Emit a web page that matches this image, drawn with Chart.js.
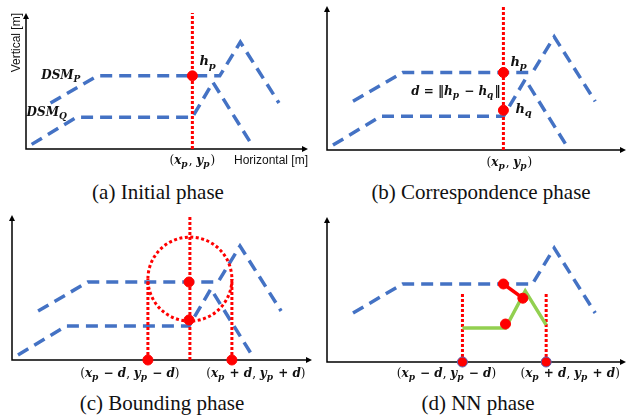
<!DOCTYPE html>
<html>
<head>
<meta charset="utf-8">
<script src="https://cdn.jsdelivr.net/npm/chart.js@4.4.0/dist/chart.umd.min.js"></script>
<style>
  body { margin: 0; width: 637px; height: 420px; background: #fff; position: relative; overflow: hidden; }
  canvas { position: absolute; }
  .cap { position: absolute; font-family: "Liberation Serif", "Times New Roman", serif; font-size: 21px;
         line-height: 1; white-space: nowrap; transform: translateX(-50%); color: #111; }
</style>
</head>
<body>
<canvas id="pa" width="318" height="175" style="left:0;top:0"></canvas>
<canvas id="pb" width="319" height="175" style="left:318px;top:0"></canvas>
<canvas id="pc" width="318" height="180" style="left:0;top:205px"></canvas>
<canvas id="pd" width="319" height="180" style="left:318px;top:205px"></canvas>
<div class="cap" style="left:158px;top:182px">(a) Initial phase</div>
<div class="cap" style="left:481px;top:182px">(b) Correspondence phase</div>
<div class="cap" style="left:162px;top:393px">(c) Bounding phase</div>
<div class="cap" style="left:478px;top:393px">(d) NN phase</div>
<script>
// profile data (horizontal / vertical, arbitrary units)
const dsmPx = [0.87, 2.53, 6.87, 7.6, 8.97];
const dsmPy = [1.69, 2.69, 2.69, 3.93, 1.69];
const dsmQx = [0.2, 1.8, 5.9, 6.63, 8.0];
const dsmQy = [0.17, 1.17, 1.17, 2.45, 0.17];

const xp = 5.9, hp = 2.69, hq = 1.38;
const circleX = 5.93, circleY = 2.79, d = 1.4;
const boundX = [4.53, 7.33];
const boundTopC = 2.79, boundTopD = 2.41;

// NN phase
const nnX = [4.53, 5.97, 6.63, 7.33];
const nnY = [1.17, 1.17, 2.45, 1.28];
const matchX = [5.9, 6.55];
const matchY = [2.69, 2.2];
const nnDotX = [5.9, 6.55, 5.97];
const nnDotY = [2.69, 2.2, 1.31];

const BLUE = '#4472C4', RED = '#FF0000', GREEN = '#92D050';

const pts = (xs, ys) => xs.map((x, i) => ({ x: x, y: ys[i] }));

const dashed = (xs, ys) => ({
    data: pts(xs, ys), showLine: true, pointRadius: 0,
    borderColor: BLUE, borderWidth: 3.5, borderDash: [12, 7], clip: false,
});
const dotted = (xs, ys) => ({
    data: pts(xs, ys), showLine: true, pointRadius: 0,
    borderColor: RED, borderWidth: 3, borderDash: [3, 2], clip: false,
});
const dots = (xs, ys, edge) => ({
    data: pts(xs, ys), showLine: false, pointRadius: 5, pointHoverRadius: 5,
    backgroundColor: RED, borderColor: edge || RED, borderWidth: 1, clip: false,
});

// math-ish text: parts = [text, subscript, style]  style: b = bold italic, u = bold upright, r = regular
function drawMath(ctx, x, y, parts, size, align) {
    const font = (st, s) => (st === 'b' ? 'italic bold ' : st === 'u' ? 'bold ' : '') + s + 'px "DejaVu Serif", serif';
    const sub = Math.round(size * 0.78);
    let w = 0;
    parts.forEach(p => {
        ctx.font = font(p[2], size); w += ctx.measureText(p[0]).width;
        if (p[1]) { ctx.font = font('b', sub); w += ctx.measureText(p[1]).width + 1; }
    });
    let cx = align === 'center' ? x - w / 2 : align === 'right' ? x - w : x;
    ctx.fillStyle = '#111';
    ctx.textBaseline = 'middle';
    ctx.textAlign = 'left';
    parts.forEach(p => {
        ctx.font = font(p[2], size); ctx.fillText(p[0], cx, y);
        cx += ctx.measureText(p[0]).width;
        if (p[1]) {
            ctx.font = font('b', sub); ctx.fillText(p[1], cx, y + size * 0.32);
            cx += ctx.measureText(p[1]).width + 1;
        }
    });
}

const axesPlugin = {
    id: 'axes',
    beforeDatasetsDraw(chart) {
        const { ctx, chartArea: a } = chart;
        ctx.save();
        ctx.strokeStyle = '#000'; ctx.fillStyle = '#000'; ctx.lineWidth = 1.5;
        ctx.beginPath();
        ctx.moveTo(a.left, a.top + 3); ctx.lineTo(a.left, a.bottom); ctx.lineTo(a.right - 3, a.bottom);
        ctx.stroke();
        ctx.beginPath();
        ctx.moveTo(a.left, a.top); ctx.lineTo(a.left - 3, a.top + 6); ctx.lineTo(a.left + 3, a.top + 6); ctx.fill();
        ctx.beginPath();
        ctx.moveTo(a.right, a.bottom); ctx.lineTo(a.right - 6, a.bottom - 3); ctx.lineTo(a.right - 6, a.bottom + 3); ctx.fill();
        ctx.restore();
    }
};

const XP = [['(', '', 'r'], ['x', 'p', 'b'], [', ', '', 'r'], ['y', 'p', 'b'], [')', '', 'r']];
const LOW = [['(', '', 'r'], ['x', 'p', 'b'], [' − ', '', 'u'], ['d', '', 'b'], [', ', '', 'r'],
             ['y', 'p', 'b'], [' − ', '', 'u'], ['d', '', 'b'], [')', '', 'r']];
const HIGH = [['(', '', 'r'], ['x', 'p', 'b'], [' + ', '', 'u'], ['d', '', 'b'], [', ', '', 'r'],
              ['y', 'p', 'b'], [' + ', '', 'u'], ['d', '', 'b'], [')', '', 'r']];

function makePanel(id, pad, datasets, draw) {
    return new Chart(document.getElementById(id), {
        type: 'scatter',
        data: { datasets: datasets },
        options: {
            responsive: false,
            animation: false,
            layout: { padding: pad },
            plugins: { legend: { display: false }, tooltip: { enabled: false } },
            scales: {
                x: { type: 'linear', min: 0, max: 10, display: false },
                y: { type: 'linear', min: 0, max: 5, display: false },
            },
        },
        plugins: [axesPlugin, { id: 'labels', afterDatasetsDraw(chart) {
            const sx = chart.scales.x, sy = chart.scales.y;
            chart.ctx.save();
            draw(chart.ctx, v => sx.getPixelForValue(v), v => sy.getPixelForValue(v), chart.chartArea);
            chart.ctx.restore();
        } }],
    });
}

// (a) Initial phase
makePanel('pa', { left: 26, top: 13, right: 10, bottom: 26 }, [
    dots([xp], [hp]),
    dotted([xp, xp], [0, 5]),
    dashed(dsmPx, dsmPy),
    dashed(dsmQx, dsmQy),
], (ctx, X, Y, a) => {
    drawMath(ctx, X(dsmPx[1]) - 16, Y(dsmPy[1]), [['DSM', 'P', 'b']], 12, 'right');
    drawMath(ctx, X(dsmQx[1]) - 9, Y(dsmQy[1]) - 4, [['DSM', 'Q', 'b']], 12, 'right');
    drawMath(ctx, X(xp) + 7, Y(hp) - 14, [['h', 'p', 'b']], 13, 'left');
    drawMath(ctx, X(xp), a.bottom + 12, XP, 12, 'center');
    ctx.fillStyle = '#111';
    ctx.font = '12px "Liberation Sans", Arial, sans-serif';
    ctx.textBaseline = 'middle';
    ctx.textAlign = 'right';
    ctx.fillText('Horizontal [m]', a.right, a.bottom + 12);
    ctx.translate(a.left - 9, a.top);
    ctx.rotate(-Math.PI / 2);
    ctx.fillText('Vertical [m]', 0, 0);
});

// (b) Correspondence phase
makePanel('pb', { left: 9, top: 5, right: 11, bottom: 25 }, [
    dots([xp, xp], [hp, hq]),
    dotted([xp, xp], [0, 5]),
    dashed(dsmPx, dsmPy),
    dashed(dsmQx, dsmQy),
], (ctx, X, Y, a) => {
    drawMath(ctx, X(xp) + 7, Y(hp) - 10, [['h', 'p', 'b']], 13, 'left');
    drawMath(ctx, X(xp) + 12, Y(hq) - 1, [['h', 'q', 'b']], 13, 'left');
    drawMath(ctx, X(xp) - 3, (Y(hp) + Y(hq)) / 2, [['d', '', 'b'], [' = ', '', 'u'], ['‖', '', 'u'], ['h', 'p', 'b'],
        [' − ', '', 'u'], ['h', 'q', 'b'], ['‖', '', 'u']], 12, 'right');
    drawMath(ctx, X(xp) + 6, a.bottom + 13, XP, 12, 'center');
});

// (c) Bounding phase
makePanel('pc', { left: 12, top: 10, right: 6, bottom: 25 }, [
    dots([xp, xp, boundX[0], boundX[1]], [hp, hq, 0, 0]),
    dotted([circleX, circleX], [0, 4.93]),
    dotted([boundX[0], boundX[0]], [0, boundTopC]),
    dotted([boundX[1], boundX[1]], [0, boundTopC]),
    dashed(dsmPx, dsmPy),
    dashed(dsmQx, dsmQy),
], (ctx, X, Y, a) => {
    ctx.strokeStyle = RED; ctx.lineWidth = 3; ctx.setLineDash([3, 2.5]);
    ctx.beginPath();
    ctx.arc(X(circleX), Y(circleY), X(circleX + d) - X(circleX), 0, Math.PI * 2);
    ctx.stroke();
    ctx.setLineDash([]);
    drawMath(ctx, X(boundX[0]) - 18, a.bottom + 14, LOW, 12, 'center');
    drawMath(ctx, X(boundX[1]) + 24, a.bottom + 14, HIGH, 12, 'center');
});

// (d) NN phase
makePanel('pd', { left: 9, top: 12, right: 11, bottom: 23 }, [
    dots(nnDotX, nnDotY),
    dots(boundX, [0, 0], '#5b5fb0'),
    {
        data: pts(matchX, matchY), showLine: true, pointRadius: 0,
        borderColor: RED, borderWidth: 3.5, clip: false,
    },
    {
        data: pts(nnX, nnY), showLine: true, pointRadius: 0,
        borderColor: GREEN, borderWidth: 3.5, clip: false,
    },
    dotted([boundX[0], boundX[0]], [0, boundTopD]),
    dotted([boundX[1], boundX[1]], [0, boundTopD]),
    dashed(dsmPx, dsmPy),
], (ctx, X, Y, a) => {
    drawMath(ctx, X(boundX[0]) - 16, a.bottom + 12, LOW, 12, 'center');
    drawMath(ctx, X(boundX[1]) + 24, a.bottom + 12, HIGH, 12, 'center');
});
</script>
</body>
</html>
